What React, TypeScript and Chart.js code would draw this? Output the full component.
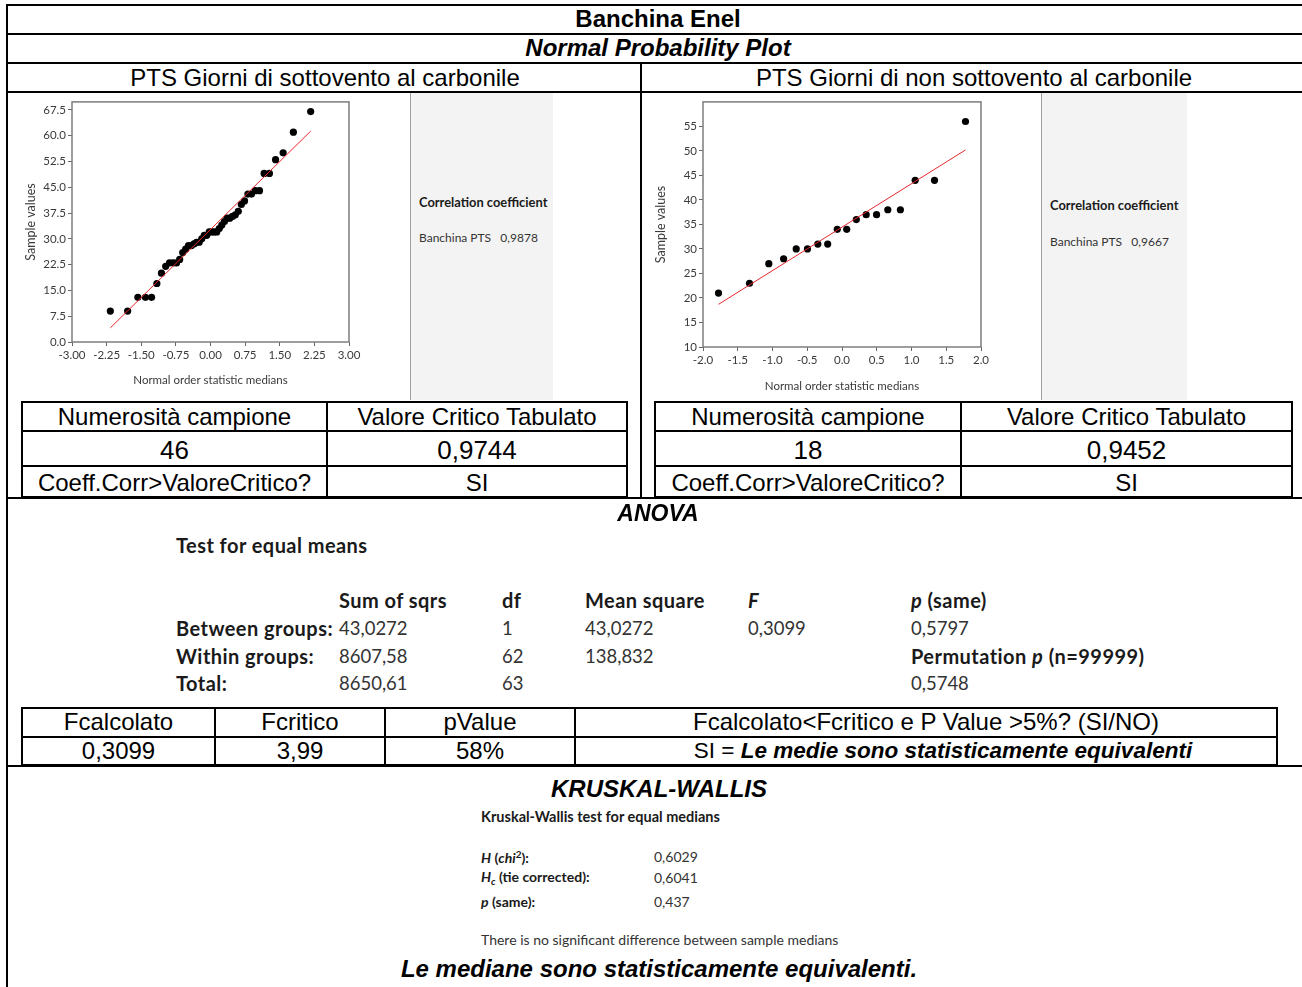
import React, { useEffect, useRef } from 'react';
import { Chart, registerables } from 'chart.js';
Chart.register(...registerables);

// ---- Left plot: PTS Giorni di sottovento al carbonile (n = 46)
const leftX = [-2.17, -1.795, -1.573, -1.409, -1.276, -1.162, -1.062, -0.971, -0.888, -0.81, -0.737, -0.668, -0.602, -0.538, -0.477, -0.417, -0.358, -0.301, -0.245, -0.19, -0.135, -0.081, -0.027, 0.027, 0.081, 0.135, 0.19, 0.245, 0.301, 0.358, 0.417, 0.477, 0.538, 0.602, 0.668, 0.737, 0.81, 0.888, 0.971, 1.062, 1.162, 1.276, 1.409, 1.573, 1.795, 2.17];
const leftY = [9, 9, 13, 13, 13, 17, 20, 22, 23, 23, 23, 24, 26, 27, 28, 28, 28.5, 29, 29, 30, 31, 31, 32, 32, 32, 32, 33, 34, 35, 36, 36, 36.5, 37, 38, 40, 41, 43, 43, 44, 44, 49, 49, 53, 55, 61, 67];
const leftFitX = [-2.17, 2.17];
const leftFitY = [4.1, 61.3];
const leftXTicks = [-3, -2.25, -1.5, -0.75, 0, 0.75, 1.5, 2.25, 3];
const leftYTicks = [0, 7.5, 15, 22.5, 30, 37.5, 45, 52.5, 60, 67.5];

// ---- Right plot: PTS Giorni di non sottovento al carbonile (n = 18)
const rightX = [-1.777, -1.331, -1.053, -0.84, -0.659, -0.497, -0.348, -0.206, -0.068, 0.068, 0.206, 0.348, 0.497, 0.659, 0.84, 1.053, 1.331, 1.777];
const rightY = [21, 23, 27, 28, 30, 30, 31, 31, 34, 34, 36, 37, 37, 38, 38, 44, 44, 56];
const rightFitX = [-1.777, 1.777];
const rightFitY = [18.7, 50.2];
const rightXTicks = [-2, -1.5, -1, -0.5, 0, 0.5, 1, 1.5, 2];
const rightYTicks = [10, 15, 20, 25, 30, 35, 40, 45, 50, 55];

const ARIAL = '"Liberation Sans", Arial, sans-serif';
const LATO = 'Lato, "Open Sans", sans-serif';

const framePlugin = {
  id: 'frame',
  afterDraw(c: any) {
    const a = c.chartArea;
    const ctx = c.ctx;
    ctx.save();
    ctx.strokeStyle = '#7d7d7d';
    ctx.lineWidth = 1.5;
    ctx.strokeRect(a.left, a.top, a.right - a.left, a.bottom - a.top);
    ctx.restore();
  },
};

function QQChart(p: any) {
  const ref = useRef<HTMLCanvasElement>(null);
  useEffect(() => {
    const font = { family: 'Lato', size: 11.5 };
    const col = '#3a3a3a';
    const chart = new Chart(ref.current as HTMLCanvasElement, {
      type: 'scatter',
      data: {
        datasets: [
          {
            data: p.fitX.map((x: number, i: number) => ({ x, y: p.fitY[i] })),
            showLine: true,
            borderColor: '#e8262b',
            borderWidth: 1,
            pointRadius: 0,
            order: 0,
          },
          {
            data: p.xs.map((x: number, i: number) => ({ x, y: p.ys[i] })),
            pointRadius: 3.6,
            backgroundColor: '#000',
            borderWidth: 0,
            order: 1,
          },
        ],
      } as any,
      options: {
        animation: false,
        responsive: false,
        events: [],
        plugins: { legend: { display: false }, tooltip: { enabled: false } },
        layout: { padding: { top: 5, right: p.padRight, left: 0, bottom: 0 } },
        scales: {
          x: {
            type: 'linear',
            min: p.xMin,
            max: p.xMax,
            afterBuildTicks: (s: any) => { s.ticks = p.xTicks.map((v: number) => ({ value: v })); },
            afterFit: (s: any) => { s.height = 56; },
            ticks: { callback: (v: any) => Number(v).toFixed(p.xDec), autoSkip: false, maxRotation: 0, font, color: col, padding: 2 },
            grid: { drawOnChartArea: false, tickLength: 4, color: '#666' },
            border: { display: false },
            title: { display: true, text: 'Normal order statistic medians', font: { family: 'Lato', size: 11.5 }, color: col, padding: { top: 0, bottom: p.xTitlePad } },
          },
          y: {
            type: 'linear',
            min: p.yMin,
            max: p.yMax,
            afterBuildTicks: (s: any) => { s.ticks = p.yTicks.map((v: number) => ({ value: v })); },
            afterFit: (s: any) => { s.width = p.yAxisW; },
            ticks: { callback: (v: any) => Number(v).toFixed(p.yDec), autoSkip: false, font, color: col, padding: 2 },
            grid: { drawOnChartArea: false, tickLength: 4, color: '#666' },
            border: { display: false },
            title: { display: true, text: 'Sample values', font: { family: 'Lato', size: 12.5 }, color: col, padding: { top: 3, bottom: 0 } },
          },
        },
      } as any,
      plugins: [framePlugin],
    });
    return () => chart.destroy();
  }, []);
  return (
    <canvas
      ref={ref}
      width={p.width}
      height={p.height}
      style={{ position: 'absolute', left: p.left, top: p.top, width: p.width, height: p.height }}
    />
  );
}

function T(p: any) {
  const center = p.anchor === 'center';
  return (
    <div
      style={{
        position: 'absolute',
        left: p.x,
        top: p.y,
        transform: center ? 'translate(-50%,-50%)' : 'translate(0,-50%)',
        fontSize: p.size,
        fontWeight: p.bold ? 700 : 400,
        fontStyle: p.italic ? 'italic' : 'normal',
        fontFamily: p.family || ARIAL,
        letterSpacing: p.ls || 0,
        whiteSpace: 'nowrap',
        lineHeight: 1,
        color: p.color || '#000',
      }}
    >
      {p.children}
    </div>
  );
}

const HL = (x1: number, x2: number, y: number, w = 2) => (
  <div style={{ position: 'absolute', left: x1, top: y - w / 2, width: x2 - x1, height: w, background: '#000' }} />
);
const VL = (x: number, y1: number, y2: number, w = 2) => (
  <div style={{ position: 'absolute', left: x - w / 2, top: y1, width: w, height: y2 - y1, background: '#000' }} />
);

function SmallTable(p: any) {
  const { x1, xm, x2, n, crit } = p;
  const c1 = (x1 + xm) / 2;
  const c2 = (xm + x2) / 2;
  return (
    <>
      {HL(x1, x2, 402)}
      {HL(x1, x2, 431)}
      {HL(x1, x2, 466)}
      {HL(x1, x2, 497)}
      {VL(x1, 401, 498)}
      {VL(xm, 401, 498)}
      {VL(x2, 401, 498)}
      <T x={c1} y={417} size={24} anchor="center">Numerosità campione</T>
      <T x={c2} y={417} size={24} anchor="center">Valore Critico Tabulato</T>
      <T x={c1} y={450} size={26} anchor="center">{n}</T>
      <T x={c2} y={450} size={26} anchor="center">{crit}</T>
      <T x={c1} y={483} size={24} anchor="center">Coeff.Corr&gt;ValoreCritico?</T>
      <T x={c2} y={483} size={24} anchor="center">SI</T>
    </>
  );
}

function GrayPanel(p: any) {
  return (
    <>
      <div style={{ position: 'absolute', left: p.x1, top: 93, width: p.x2 - p.x1, height: p.bottom - 93, background: '#f3f3f3', borderLeft: '1.5px solid #a0a0a0' }} />
      <T x={p.x1 + 9} y={p.ty1} size={12.9} bold family={LATO} color="#1a1a1a">Correlation coefficient</T>
      <T x={p.x1 + 9} y={p.ty2} size={12} family={LATO} color="#333">{'Banchina PTS\u00a0\u00a0 ' + p.value}</T>
    </>
  );
}

export default function App() {
  const A = { family: LATO, size: 19, bsize: 20, ls: 0.45 };
  const colX = [176, 339, 502, 585, 748, 911];
  const anovaRows = [
    { y: 628, label: 'Between groups:', ss: '43,0272', df: '1', ms: '43,0272', f: '0,3099', p: '0,5797' },
    { y: 656, label: 'Within groups:', ss: '8607,58', df: '62', ms: '138,832', f: '', p: '' },
    { y: 683, label: 'Total:', ss: '8650,61', df: '63', ms: '', f: '', p: '0,5748' },
  ];
  const hb = { size: A.bsize, family: A.family, bold: true, color: '#1a1a1a', ls: A.ls };
  const vr = { size: 18.5, family: A.family, color: '#333' };
  return (
    <div style={{ position: 'absolute', left: 0, top: 0, width: 1302, height: 987, overflow: 'hidden', background: '#fff' }}>
      {/* outer structure */}
      {HL(6, 1302, 5)}
      {HL(6, 1302, 34)}
      {HL(6, 1302, 63)}
      {HL(6, 1302, 92)}
      {HL(6, 1302, 498)}
      {HL(6, 1302, 766)}
      {VL(7, 4, 987)}
      {VL(641, 63, 498)}

      <T x={658} y={19} size={24} bold anchor="center">Banchina Enel</T>
      <T x={658} y={48} size={24} bold italic anchor="center">Normal Probability Plot</T>
      <T x={325} y={78} size={24} anchor="center">PTS Giorni di sottovento al carbonile</T>
      <T x={974} y={78} size={24} anchor="center">PTS Giorni di non sottovento al carbonile</T>

      <GrayPanel x1={410} x2={552} bottom={400} ty1={202} ty2={238} value="0,9878" />
      <GrayPanel x1={1041} x2={1186} bottom={400} ty1={205} ty2={242} value="0,9667" />

      <QQChart
        left={20} top={93} width={390} height={305}
        xs={leftX} ys={leftY} fitX={leftFitX} fitY={leftFitY}
        xTicks={leftXTicks} yTicks={leftYTicks}
        xMin={-3} xMax={3} yMin={0} yMax={69.8} xDec={2} yDec={1}
        yAxisW={52} padRight={61} xTitlePad={11}
      />
      <QQChart
        left={650} top={93} width={390} height={310}
        xs={rightX} ys={rightY} fitX={rightFitX} fitY={rightFitY}
        xTicks={rightXTicks} yTicks={rightYTicks}
        xMin={-2} xMax={2} yMin={10} yMax={60} xDec={1} yDec={0}
        yAxisW={53} padRight={59} xTitlePad={9.5}
      />

      <SmallTable x1={22} xm={327} x2={627} n="46" crit="0,9744" />
      <SmallTable x1={655} xm={961} x2={1292} n="18" crit="0,9452" />

      {/* ANOVA */}
      <T x={658} y={513} size={23} bold italic anchor="center">ANOVA</T>
      <T x={176} y={545} {...hb}>Test for equal means</T>
      <T x={colX[1]} y={600} {...hb}>Sum of sqrs</T>
      <T x={colX[2]} y={600} {...hb}>df</T>
      <T x={colX[3]} y={600} {...hb}>Mean square</T>
      <T x={colX[4]} y={600} {...hb} italic>F</T>
      <T x={colX[5]} y={600} {...hb}><i>p</i> (same)</T>
      {anovaRows.map((r) => (
        <React.Fragment key={r.label}>
          <T x={colX[0]} y={r.y} {...hb}>{r.label}</T>
          <T x={colX[1]} y={r.y} {...vr}>{r.ss}</T>
          <T x={colX[2]} y={r.y} {...vr}>{r.df}</T>
          <T x={colX[3]} y={r.y} {...vr}>{r.ms}</T>
          <T x={colX[4]} y={r.y} {...vr}>{r.f}</T>
          <T x={colX[5]} y={r.y} {...vr}>{r.p}</T>
        </React.Fragment>
      ))}
      <T x={colX[5]} y={656} {...hb}>Permutation <i>p</i> (n=99999)</T>

      {/* ANOVA result table */}
      {HL(22, 1277, 708)}
      {HL(22, 1277, 737)}
      {HL(22, 1277, 765)}
      {VL(22, 707, 766)}
      {VL(215, 707, 766)}
      {VL(385, 707, 766)}
      {VL(575, 707, 766)}
      {VL(1277, 707, 766)}
      <T x={118.5} y={722} size={24} anchor="center">Fcalcolato</T>
      <T x={300} y={722} size={24} anchor="center">Fcritico</T>
      <T x={480} y={722} size={24} anchor="center">pValue</T>
      <T x={926} y={722} size={24} anchor="center">Fcalcolato&lt;Fcritico e P Value &gt;5%? (SI/NO)</T>
      <T x={118.5} y={751} size={24} anchor="center">0,3099</T>
      <T x={300} y={751} size={24} anchor="center">3,99</T>
      <T x={480} y={751} size={24} anchor="center">58%</T>
      <T x={943} y={751} size={22.5} anchor="center">SI = <b><i>Le medie sono statisticamente equivalenti</i></b></T>

      {/* Kruskal-Wallis */}
      <T x={659} y={789} size={24} bold italic anchor="center">KRUSKAL-WALLIS</T>
      <T x={481} y={817} size={14.5} family={LATO} bold color="#1a1a1a">Kruskal-Wallis test for equal medians</T>
      <T x={481} y={857} size={14} family={LATO} bold color="#1a1a1a"><i>H</i> (<i>chi</i><sup style={{ fontSize: 10 }}>2</sup>):</T>
      <T x={481} y={878} size={14} family={LATO} bold color="#1a1a1a"><i>H<sub style={{ fontSize: 10 }}>c</sub></i> (tie corrected):</T>
      <T x={481} y={902} size={14} family={LATO} bold color="#1a1a1a"><i>p</i> (same):</T>
      <T x={654} y={857} size={14} family={LATO} color="#333">0,6029</T>
      <T x={654} y={878} size={14} family={LATO} color="#333">0,6041</T>
      <T x={654} y={902} size={14} family={LATO} color="#333">0,437</T>
      <T x={481} y={940} size={14} family={LATO} color="#333">There is no significant difference between sample medians</T>
      <T x={659} y={969} size={24} bold italic anchor="center">Le mediane sono statisticamente equivalenti.</T>
    </div>
  );
}
